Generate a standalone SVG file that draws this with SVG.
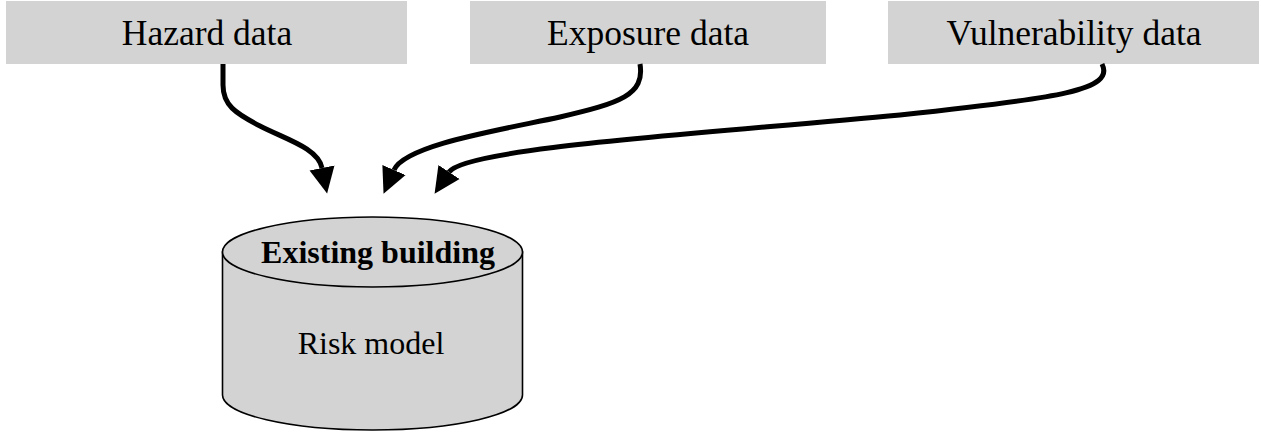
<svg xmlns="http://www.w3.org/2000/svg" width="1261" height="435" viewBox="0 0 1261 435">
  <style>
    .box { fill: #d3d3d3; stroke: none; }
    .label { font-family: "Liberation Serif", "Times New Roman", serif; fill: #000; text-anchor: middle; }
    .top { font-size: 35.5px; }
    .cyl { fill: #d3d3d3; stroke: #000; stroke-width: 1.6; }
    .cyltext { font-size: 32px; }
    .link { fill: none; stroke: #000; stroke-width: 5; }
  </style>
  <defs>
    <marker id="arrow" markerUnits="userSpaceOnUse" markerWidth="30" markerHeight="30" viewBox="0 -15 30 30" refX="0" refY="0" orient="auto">
      <path d="M0,-12.7 L26,0 L0,12.7 Z" fill="#000"/>
    </marker>
  </defs>

  <!-- input data sources -->
  <g id="hazard">
    <rect class="box" x="6" y="1" width="401" height="63"/>
    <text class="label top" x="207" y="45">Hazard data</text>
  </g>
  <g id="exposure">
    <rect class="box" x="470" y="1" width="356" height="63"/>
    <text class="label top" x="648" y="45">Exposure data</text>
  </g>
  <g id="vulnerability">
    <rect class="box" x="888" y="1" width="371" height="63"/>
    <text class="label top" x="1074" y="45">Vulnerability data</text>
  </g>

  <!-- risk model cylinder -->
  <g id="risk-model">
    <path class="cyl" d="M222.5,252 L222.5,395 A150,35 0 0 0 522.5,395 L522.5,252 Z"/>
    <ellipse class="cyl" cx="372.5" cy="252" rx="150" ry="35"/>
    <text class="label cyltext" x="378" y="263" font-weight="bold">Existing building</text>
    <text class="label cyltext" x="371" y="354">Risk model</text>
  </g>

  <!-- connectors -->
  <g id="connectors">
    <path class="link" marker-end="url(#arrow)" d="M223,64 L223,85 C223,105 235,113 260,126 C285,139 318,148 322,168"/>
    <path class="link" marker-end="url(#arrow)" d="M640,64 C645,95 620,103 560,117 C500,130 405,145 394,170"/>
    <path class="link" marker-end="url(#arrow)" d="M1102,64 C1115,90 1060,98 900,115 C700,134 465,148 449,172"/>
  </g>
</svg>
